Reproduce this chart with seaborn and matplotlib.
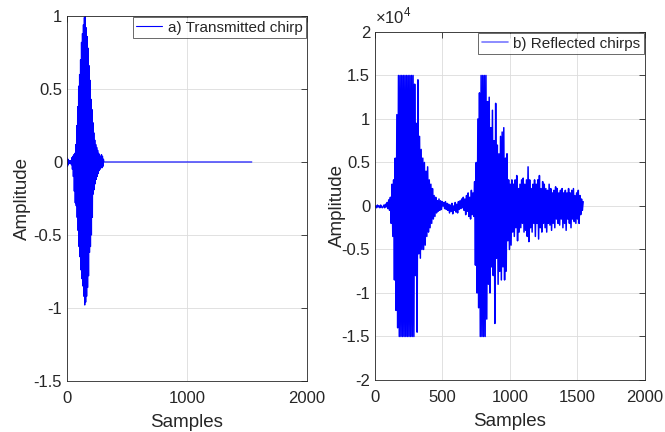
import numpy as np
import pandas as pd
import seaborn as sns
import matplotlib.pyplot as plt
from matplotlib.ticker import FuncFormatter

# a) transmitted chirp, one value every 4 samples (read off the picture)
chirp_step = 4
chirp_vals = [0.03, -0.03, 0.02, -0.02, 0.01, -0.01, 0.01, -0.01, 0.01, -0.02,
              0.03, -0.05, 0.04, -0.10, 0.05, -0.20, 0.06, -0.28, 0.12, -0.30,
              0.25, -0.38, 0.38, -0.47, 0.52, -0.58, 0.60, -0.65, 0.70, -0.74,
              0.82, -0.80, 0.88, -0.85, 0.94, -0.92, 0.99, -0.98, 1.00, -0.96,
              0.92, -0.92, 0.86, -0.86, 0.78, -0.78, 0.66, -0.62, 0.56, -0.58,
              0.43, -0.50, 0.36, -0.38, 0.27, -0.22, 0.20, -0.19, 0.15, -0.15,
              0.12, -0.12, 0.10, -0.10, 0.08, -0.08, 0.06, -0.06, 0.05, -0.05,
              0.04, -0.04, 0.05, -0.04, 0.04, -0.03, 0.02, 0.00]
chirp_end = 1540  # flat zero tail up to here

# b) reflected chirps, x1e4, one value every 6 samples
refl_step = 6
refl_vals = [
    -0.01, 0.00, -0.02, 0.01, -0.01, 0.00, -0.02, 0.01, -0.01, -0.02,   # 0
    -0.01, 0.01, -0.02, 0.02, -0.01, 0.04, -0.03, 0.07, -0.05, 0.10,    # 60
    -0.20, 0.25, -0.35, 0.30, -0.85, 0.55, -1.20, 1.05, -1.40, 1.50,    # 120
    -1.50, 1.50, -1.50, 1.50, -1.50, 1.50, -1.50, 1.50, -1.50, 1.50,    # 180
    -1.50, 1.50, -1.50, 1.50, -1.50, 1.50, -1.50, 1.50, -1.50, 1.40,    # 240
    -0.80, 0.95, -1.45, 1.45, -0.55, 0.80, -0.60, 0.65, -0.50, 0.55,    # 300
    -0.50, 0.50, -0.45, 0.40, -0.35, 0.45, -0.30, 0.30, -0.25, 0.25,    # 360
    -0.20, 0.20, -0.15, 0.12, -0.12, 0.10, -0.08, 0.06, -0.06, 0.08,    # 420
    -0.05, 0.06, -0.04, 0.05, 0.00, 0.04, -0.03, 0.05, -0.04, 0.03,     # 480
    -0.05, 0.02, -0.08, 0.01, -0.06, 0.03, -0.09, 0.00, -0.05, 0.04,    # 540
    -0.07, 0.02, -0.08, 0.05, -0.04, 0.06, -0.03, 0.08, -0.02, 0.10,    # 600
    -0.05, 0.08, -0.10, 0.12, -0.06, 0.15, -0.12, 0.10, -0.15, 0.18,    # 660
    -0.10, 0.15, -0.12, 0.28, -0.68, 0.50, -1.00, 1.00, -1.17, 1.30,    # 720
    -1.50, 1.50, -1.50, 1.50, -1.50, 1.50, -1.50, 1.50, -1.30, 1.20,    # 780
    -0.90, 1.25, -1.00, 0.90, -0.70, 1.10, -0.80, 0.75, -1.35, 1.18,    # 840
    -0.60, 0.70, -0.90, 0.60, -0.75, 0.80, -0.85, 0.85, -0.70, 0.90,    # 900
    -0.85, 0.55, -0.75, 0.60, -0.40, 0.30, -0.50, 0.25, -0.45, 0.30,    # 960
    -0.30, 0.25, -0.35, 0.30, -0.25, 0.35, -0.40, 0.20, -0.30, 0.25,    # 1020
    -0.25, 0.30, -0.20, 0.32, -0.30, 0.25, -0.28, 0.30, -0.35, 0.45,    # 1080
    -0.41, 0.30, -0.25, 0.20, -0.30, 0.25, -0.20, 0.30, -0.35, 0.25,    # 1140
    -0.20, 0.30, -0.38, 0.35, -0.25, 0.20, -0.30, 0.28, -0.20, 0.25,    # 1200
    -0.25, 0.20, -0.30, 0.18, -0.20, 0.25, -0.22, 0.20, -0.28, 0.15,    # 1260
    -0.20, 0.18, -0.25, 0.22, -0.15, 0.20, -0.20, 0.15, -0.22, 0.18,    # 1320
    -0.15, 0.20, -0.25, 0.15, -0.20, 0.18, -0.28, 0.15, -0.15, 0.20,    # 1380
    -0.20, 0.15, -0.25, 0.18, -0.15, 0.20, -0.18, 0.12, -0.20, 0.15,    # 1440
    -0.15, 0.18, -0.20, 0.12, -0.10, 0.08, -0.05, 0.05,                 # 1500
]

a_x = list(np.arange(len(chirp_vals)) * chirp_step) + [chirp_end]
a_y = chirp_vals + [0.0]
df_a = pd.DataFrame({'Samples': a_x, 'Amplitude': a_y})

df_b = pd.DataFrame({'Samples': np.arange(len(refl_vals)) * refl_step,
                     'Amplitude': np.array(refl_vals) * 1e4})

sns.set_style('white')
plt.rcParams['font.family'] = ['Liberation Sans', 'DejaVu Sans']
plt.rcParams['axes.unicode_minus'] = False
plt.rcParams['mathtext.fontset'] = 'custom'
plt.rcParams['mathtext.rm'] = 'Liberation Sans'

fig = plt.figure(figsize=(6.65, 4.32), dpi=100)
ax1 = fig.add_axes([0.1008, 0.1181, 0.3609, 0.8449])
ax2 = fig.add_axes([0.5639, 0.1204, 0.4060, 0.8056])

dark = '#262626'

sns.lineplot(data=df_a, x='Samples', y='Amplitude', ax=ax1, sort=False,
             estimator=None, color='blue', lw=0.8, label='a) Transmitted chirp')
sns.lineplot(data=df_b, x='Samples', y='Amplitude', ax=ax2, sort=False,
             estimator=None, color='blue', lw=1.1, label='b) Reflected chirps')

ax1.set_xlim(0, 2000)
ax1.set_ylim(-1.5, 1)
ax1.set_xticks([0, 1000, 2000])
ax1.set_yticks([-1.5, -1, -0.5, 0, 0.5, 1])
ax1.yaxis.set_major_formatter(FuncFormatter(lambda v, p: f'{v:g}'))

ax2.set_xlim(0, 2000)
ax2.set_ylim(-2e4, 2e4)
ax2.set_xticks([0, 500, 1000, 1500, 2000])
ax2.set_yticks(np.arange(-2, 2.5, 0.5) * 1e4)
ax2.yaxis.set_major_formatter(FuncFormatter(lambda v, p: f'{v / 1e4:g}'))
ax2.text(0.0, 1.015, r'$\times10^{4}$', transform=ax2.transAxes,
         fontsize=12, color=dark, ha='left', va='bottom')

for ax, lpad in ((ax1, 2), (ax2, -3)):
    ax.grid(True, color='#dcdcdc', lw=0.6)
    ax.set_axisbelow(True)
    ax.tick_params(direction='in', length=4, width=0.6, top=True, right=True,
                   labelsize=12, colors=dark)
    ax.tick_params(axis='x', pad=7)
    for s in ax.spines.values():
        s.set_color(dark)
        s.set_linewidth(0.6)
    ax.set_xlabel('Samples', fontsize=13.5, color=dark, labelpad=6)
    ax.set_ylabel('Amplitude', fontsize=13.5, color=dark, labelpad=lpad)
    leg = ax.legend(loc='upper right', fontsize=11, frameon=True, fancybox=False,
                    borderaxespad=0.05, handlelength=1.7, handletextpad=0.35,
                    borderpad=0.25)
    leg.get_frame().set_edgecolor(dark)
    leg.get_frame().set_linewidth(0.6)

ax2.get_legend().get_lines()[0].set_color('#7878ff')
ax2.get_legend().get_lines()[0].set_linewidth(1.2)

fig.savefig('out.png', dpi=100)
